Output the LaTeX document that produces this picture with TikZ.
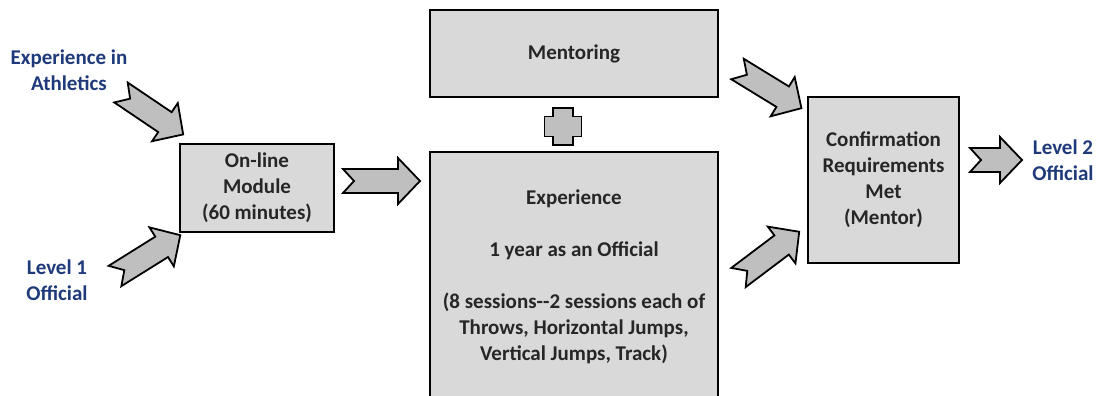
\documentclass[tikz,border=0pt]{standalone}
\usepackage{fontspec}
\setmainfont{Carlito}

\definecolor{boxgray}{HTML}{D9D9D9}
\definecolor{arrowgray}{HTML}{BFBFBF}
\definecolor{labelblue}{HTML}{1F3A7A}
\definecolor{textdark}{HTML}{262626}

\tikzset{
  box/.style={draw=black, line width=0.9pt, fill=boxgray, text=textdark,
    font=\bfseries\fontsize{10.5}{13}\selectfont, align=center, inner sep=0pt},
  lbl/.style={text=labelblue, font=\bfseries\fontsize{10.5}{13}\selectfont, align=center},
  pics/fatarrow/.style={code={
    \draw[line width=0.9pt, fill=arrowgray, line join=miter]
      (0,12) -- (#1-22,12) -- (#1-22,23) -- (#1,0) -- (#1-22,-23) -- (#1-22,-12)
      -- (0,-12) -- (11,0) -- cycle;
  }}
}

\begin{document}
\begin{tikzpicture}[x=0.5pt, y=-0.5pt]
  \clip (0,0) rectangle (1099,396);

  % Inputs (left)
  \node[lbl] (athletics) at (69,70) {Experience in\\Athletics};
  \node[lbl] (levelone) at (57,280) {Level 1\\Official};

  % On-line module
  \node[box, minimum width=77pt, minimum height=44pt] (online) at (257,188)
    {On-line\\Module\\(60 minutes)};

  % Mentoring + experience (middle)
  \node[box, minimum width=144pt, minimum height=43.5pt] (mentor) at (574,53.5) {Mentoring};
  \draw[box, line width=0.9pt] (430,152) rectangle (718,420);
  \node[box, draw=none, fill=none] (exper) at (574,277)
    {Experience\\[13pt]1 year as an Official\\[13pt](8 sessions-{}-2 sessions each of\\
     Throws, Horizontal Jumps,\\Vertical Jumps, Track)};

  % Plus sign
  \draw[line width=0.9pt, fill=arrowgray]
    (553,108) -- (573,108) -- (573,116.5) -- (581.5,116.5) -- (581.5,136.5)
    -- (573,136.5) -- (573,145) -- (553,145) -- (553,136.5) -- (544.5,136.5)
    -- (544.5,116.5) -- (553,116.5) -- cycle;

  % Confirmation (right)
  \node[box, minimum width=75.5pt, minimum height=83pt] (confirm) at (883.5,180)
    {Confirmation\\Requirements\\Met\\(Mentor)};
  \node[lbl] (leveltwo) at (1063,160) {Level 2\\Official};

  % Block arrows
  \pic[rotate=-34] at (121,92.5) {fatarrow=75};
  \pic[rotate=32] at (115,276) {fatarrow=77};
  \pic at (343,181) {fatarrow=77};
  \pic[rotate=-31.5] at (737.5,69) {fatarrow=75};
  \pic[rotate=37] at (738.5,277.5) {fatarrow=76};
  \pic at (970,160) {fatarrow=52};
\end{tikzpicture}
\end{document}
